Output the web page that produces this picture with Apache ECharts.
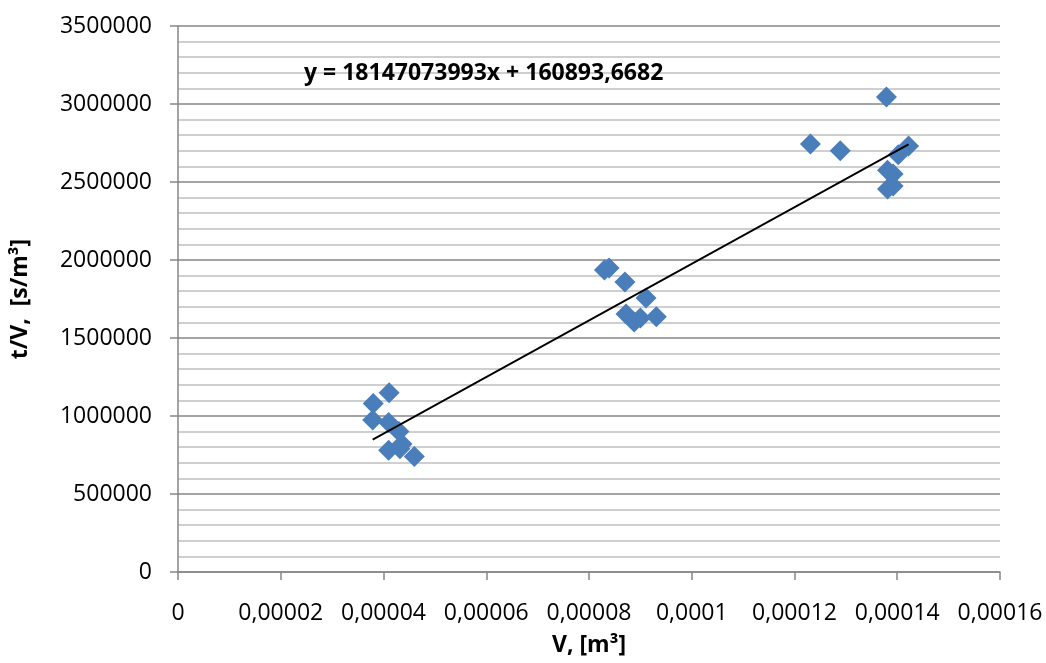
<!DOCTYPE html>
<html>
<head>
<meta charset="utf-8">
<script src="https://cdn.jsdelivr.net/npm/echarts@6/dist/echarts.min.js"></script>
<style>
  html, body { margin: 0; padding: 0; background: #fff; }
  #chart { width: 1046px; height: 663px; }
</style>
</head>
<body>
<div id="chart"></div>
<script>
// V [m3] and t/V [s/m3] measurements
const vValues = [
  0.0000411, 0.0000380, 0.0000379, 0.0000410, 0.0000430, 0.0000436, 0.0000410, 0.0000432, 0.0000460,
  0.0000830, 0.0000839, 0.0000870, 0.0000911, 0.0000872, 0.0000888, 0.0000900, 0.0000931,
  0.0001379, 0.0001231, 0.0001289, 0.0001422, 0.0001402, 0.0001381, 0.0001392, 0.0001381, 0.0001392
]
const tvValues = [
  1149000, 1080000, 974000, 958000, 900000, 820000, 780000, 790000, 740000,
  1936000, 1949000, 1859000, 1756000, 1654000, 1603000, 1628000, 1637000,
  3045000, 2744000, 2700000, 2731000, 2675000, 2575000, 2551000, 2455000, 2474000
]
// linear trend from the reference
const trendSlope = 18147073993
const trendIntercept = 160893.6682
const trendLabel = 'y = 18147073993x + 160893,6682'

const xMax = 0.00016
const xStep = 0.00002
const yMax = 3500000
const yStep = 500000

const points = vValues.map((v, i) => [v, tvValues[i]])
const xLo = Math.min(...vValues)
const xHi = Math.max(...vValues)
const trend = [xLo, xHi].map(x => [x, trendSlope * x + trendIntercept])

const fontFamily = '"Open Sans", "Liberation Sans", sans-serif'

const chart = echarts.init(document.getElementById('chart'))
chart.setOption({
  animation: false,
  textStyle: { fontFamily: fontFamily },
  title: {
    text: trendLabel,
    left: 299,
    top: 57,
    textStyle: { fontSize: 23, fontWeight: 'bold', color: '#000', fontFamily: fontFamily }
  },
  grid: { left: 178, right: 46, top: 26, bottom: 91 },
  xAxis: {
    type: 'value',
    min: 0,
    max: xMax,
    interval: xStep,
    name: 'V, [m³]',
    nameLocation: 'middle',
    nameGap: 62,
    nameTextStyle: { fontSize: 23, fontWeight: 'bold', color: '#000' },
    axisLine: { show: true, onZero: false, lineStyle: { color: '#868686', width: 1.5 } },
    axisTick: { show: true, length: 8, lineStyle: { color: '#868686', width: 1.5 } },
    axisLabel: {
      fontSize: 23,
      color: '#000',
      margin: 30,
      formatter: v => String(Number(v.toFixed(6))).replace('.', ',')
    },
    splitLine: { show: false }
  },
  yAxis: {
    type: 'value',
    min: 0,
    max: yMax,
    interval: yStep,
    name: 't/V,  [s/m³]',
    nameLocation: 'middle',
    nameGap: 146,
    nameTextStyle: { fontSize: 23, fontWeight: 'bold', color: '#000' },
    axisLine: { show: true, lineStyle: { color: '#868686', width: 1.5 } },
    axisTick: { show: true, length: 8, lineStyle: { color: '#868686', width: 1.5 } },
    axisLabel: { fontSize: 23, color: '#000', margin: 26, formatter: v => String(v) },
    splitLine: { show: true, lineStyle: { color: '#868686', width: 1.5 } },
    minorTick: { show: false, splitNumber: 5 },
    minorSplitLine: { show: true, lineStyle: { color: '#c0c0c0', width: 1.5 } }
  },
  series: [
    {
      type: 'scatter',
      data: points,
      symbol: 'diamond',
      symbolSize: 21,
      itemStyle: { color: '#4a7ebb', opacity: 1 },
      z: 3
    },
    {
      type: 'line',
      data: trend,
      symbol: 'none',
      lineStyle: { color: '#000', width: 1.8 },
      z: 4
    }
  ]
})
</script>
</body>
</html>
